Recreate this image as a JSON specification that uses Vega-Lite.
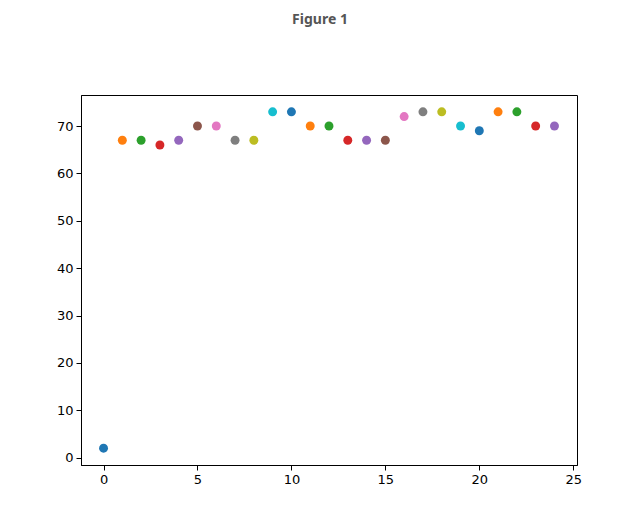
{
  "$schema": "https://vega.github.io/schema/vega-lite/v6.json",
  "width": 496,
  "height": 370,
  "autosize": {"type": "none"},
  "padding": {"left": 81, "top": 95, "right": 63, "bottom": 56},
  "background": "white",
  "title": {"text": "Figure 1", "fontSize": 14, "fontWeight": "bold", "color": "#555555", "font": "Noto Sans", "anchor": "middle", "dx": -9, "offset": 68},
  "config": {
    "view": {"stroke": "black", "strokeWidth": 1},
    "axis": {"domainColor": "black", "tickColor": "black", "labelColor": "black", "labelFont": "DejaVu Sans", "labelFontSize": 13, "tickSize": 5, "grid": false, "title": null, "labelPadding": 3}
  },
  "data": {"values": [
    {"i": 0, "v": 2}, {"i": 1, "v": 67}, {"i": 2, "v": 67}, {"i": 3, "v": 66}, {"i": 4, "v": 67},
    {"i": 5, "v": 70}, {"i": 6, "v": 70}, {"i": 7, "v": 67}, {"i": 8, "v": 67}, {"i": 9, "v": 73},
    {"i": 10, "v": 73}, {"i": 11, "v": 70}, {"i": 12, "v": 70}, {"i": 13, "v": 67}, {"i": 14, "v": 67},
    {"i": 15, "v": 67}, {"i": 16, "v": 72}, {"i": 17, "v": 73}, {"i": 18, "v": 73}, {"i": 19, "v": 70},
    {"i": 20, "v": 69}, {"i": 21, "v": 73}, {"i": 22, "v": 73}, {"i": 23, "v": 70}, {"i": 24, "v": 70}
  ]},
  "mark": {"type": "circle", "size": 80, "opacity": 1},
  "encoding": {
    "x": {"field": "i", "type": "quantitative", "scale": {"domain": [-1.2, 25.2], "nice": false, "zero": false}, "axis": {"values": [0, 5, 10, 15, 20, 25]}},
    "y": {"field": "v", "type": "quantitative", "scale": {"domain": [-1.55, 76.55], "nice": false, "zero": false}, "axis": {"values": [0, 10, 20, 30, 40, 50, 60, 70]}},
    "color": {"field": "i", "type": "ordinal", "legend": null, "scale": {"range": ["#1f77b4", "#ff7f0e", "#2ca02c", "#d62728", "#9467bd", "#8c564b", "#e377c2", "#7f7f7f", "#bcbd22", "#17becf"]}}
  }
}
